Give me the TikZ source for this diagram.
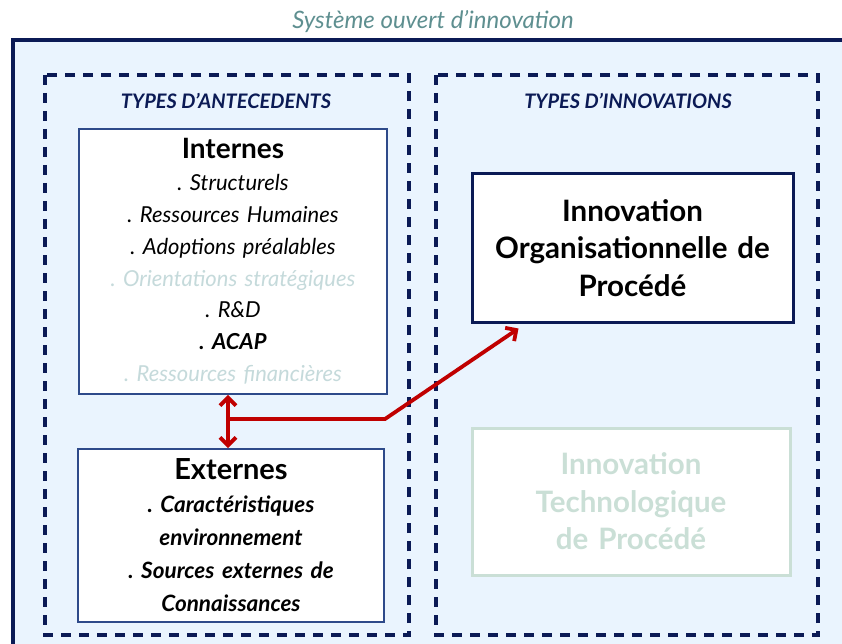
\documentclass[tikz,border=0pt]{standalone}
\usepackage{fontspec}
\setmainfont{Lato}
\usetikzlibrary{arrows.meta}
\definecolor{navy}{HTML}{0B1A55}
\definecolor{boxblue}{HTML}{2E4A8A}
\definecolor{sky}{HTML}{EAF4FE}
\definecolor{faded}{HTML}{C5DADB}
\definecolor{paleg}{HTML}{CADFD6}
\definecolor{teal}{HTML}{5E8F90}
\definecolor{redarrow}{HTML}{C00000}
\frenchspacing
\begin{document}
\begin{tikzpicture}[x=1pt,y=-1pt,>={Straight Barb[length=8pt,width=16pt]},
  box/.style={draw=boxblue,line width=1.8pt,fill=white,align=center,inner sep=2pt},
  zone/.style={draw=navy,line width=3.2pt,dash pattern=on 10pt off 8pt},
  header/.style={text=navy,font=\fontsize{20}{20}\selectfont\bfseries\itshape}]
\clip (0,0) rectangle (842,644);
\fill[white] (0,0) rectangle (842,644);
\draw[navy,line width=3.6pt,fill=sky] (13,40) rectangle (880,680);
\node[text=teal,font=\fontsize{24}{24}\selectfont\itshape] (titre) at (433,22) {Système ouvert d'innovation};

\draw[zone] (45,75) rectangle (409,635);
\draw[zone] (436,75) rectangle (818,635);
\node[header] (antec) at (226,101) {TYPES D'ANTECEDENTS};
\node[header] (innov) at (628,101) {TYPES D'INNOVATIONS};

\node[box,text width=304pt,minimum height=265pt,font=\fontsize{22}{31.8}\selectfont\itshape] (internes) at (233,261.5)
{{\fontsize{28}{31.8}\selectfont\upshape\bfseries Internes}\\
. Structurels\\
. Ressources Humaines\\
. Adoptions préalables\\
{\color{faded}. Orientations stratégiques}\\
. R\&D\\
{\bfseries . ACAP}\\
{\color{faded}. Ressources financières}};

\node[box,text width=302pt,minimum height=173pt,font=\fontsize{22.5}{33}\selectfont\bfseries\itshape] (externes) at (231,535.5)
{{\fontsize{29}{33}\selectfont\upshape Externes}\\
. Caractéristiques\\
environnement\\
. Sources externes de\\
Connaissances};

\node[box,draw=navy,line width=3pt,text width=317pt,minimum height=148pt,font=\fontsize{29.5}{37.5}\selectfont\bfseries] (orgproc) at (632.5,248)
{Innovation\\ Organisationnelle de\\ Procédé};
\node[box,draw=paleg,line width=3pt,text=paleg,text width=314pt,minimum height=147pt,font=\fontsize{29.5}{37.5}\selectfont\bfseries] (techproc) at (631,501.5)
{Innovation\\ Technologique\\ de Procédé};

\coordinate (split) at (228,419);
\coordinate (coude) at (385,419);
\draw[<->,redarrow,line width=3.8pt] ([xshift=-5pt]internes.south) -- ([xshift=-3pt]externes.north);
\draw[->,redarrow,line width=3.8pt] (split) -- (coude) -- ([xshift=48pt,yshift=-5pt]orgproc.south west);
\end{tikzpicture}
\end{document}
